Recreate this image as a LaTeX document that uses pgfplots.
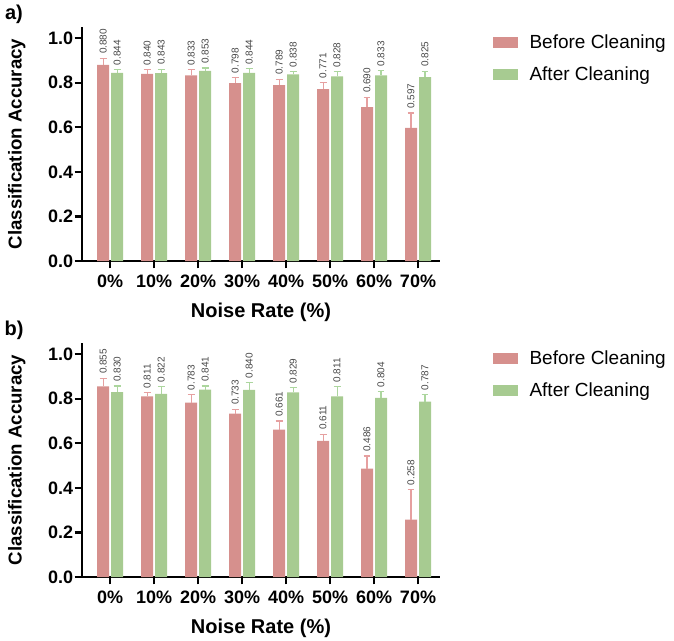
\documentclass[border=0pt]{standalone}
\usepackage{fontspec}
\setmainfont{Liberation Sans}
\usepackage{pgfplots}
\usepackage{pgfplotstable}
\pgfplotsset{compat=1.18}
\definecolor{barred}{RGB}{214,144,141}
\definecolor{bargreen}{RGB}{167,203,145}
\definecolor{errred}{RGB}{230,160,160}
\definecolor{errgreen}{RGB}{172,214,158}

\pgfplotstableread{
x before berr after aerr
0 0.880 0.030 0.844 0.015
1 0.840 0.018 0.843 0.018
2 0.833 0.025 0.853 0.013
3 0.798 0.025 0.844 0.018
4 0.789 0.027 0.838 0.013
5 0.771 0.031 0.828 0.021
6 0.690 0.045 0.833 0.021
7 0.597 0.067 0.825 0.027
}\dataA
\pgfplotstableread{
x before berr after aerr
0 0.855 0.037 0.830 0.027
1 0.811 0.016 0.822 0.033
2 0.783 0.037 0.841 0.016
3 0.733 0.020 0.840 0.033
4 0.661 0.039 0.829 0.020
5 0.611 0.030 0.811 0.043
6 0.486 0.057 0.804 0.028
7 0.258 0.135 0.787 0.033
}\dataB

\pgfplotsset{
  prism/.style={
    scale only axis,
    width=268.5pt, height=175.5pt,
    xmin=-0.64, xmax=7.5, ymin=0, ymax=1.05,
    ybar,
    axis lines=left,
    axis line style={-, line width=1.7pt, black},
    tick align=outside,
    major tick length=5.5pt,
    tick style={line width=1.7pt, black},
    xtick={0,1,2,3,4,5,6,7},
    xticklabels={0\%,10\%,20\%,30\%,40\%,50\%,60\%,70\%},
    ytick={0,0.2,0.4,0.6,0.8,1.0},
    yticklabel={\pgfmathprintnumber[fixed,fixed zerofill,precision=1,assume math mode=true]{\tick}},
    ticklabel style={font=\fontsize{13.5}{15}\selectfont\bfseries},
    yticklabel style={inner sep=1pt},
    xticklabel style={inner sep=2pt, yshift=-3pt},
    xlabel={Noise Rate (\%)},
    xlabel style={font=\fontsize{15}{17}\selectfont\bfseries, at={(axis description cs:0.5,-0.218)}, anchor=center},
    ylabel={Classification Accuracy},
    ylabel style={font=\fontsize{14}{16}\selectfont\bfseries, at={(axis description cs:-0.182,0.5)}, anchor=center, rotate=0},
    legend style={at={(axis description cs:1.146,0.98)}, anchor=north west, draw=none, fill=none,
      font=\fontsize{14.25}{16}\selectfont, row sep=8pt, column sep=7pt, inner sep=0pt},
    legend cell align=left,
    legend image code/.code={\fill[##1] (0pt,-4.1pt) rectangle (18.75pt,4.1pt);},
    clip=false,
  },
  vals/.style={
    nodes near coords={\pgfmathprintnumber[fixed,fixed zerofill,precision=3,assume math mode=true]{\pgfplotspointmeta}},
    visualization depends on={\thisrow{#1} \as \errv},
    every node near coord/.append style={font=\fontsize{7.5}{8}\selectfont, text=black!72,
      shift={(axis direction cs:0,\errv)}, yshift=3pt, rotate=90, anchor=west, inner sep=0pt},
  },
}

\begin{document}
\begin{tikzpicture}
\path[use as bounding box] (0,0) rectangle (505.5pt,-480pt);

\begin{axis}[prism, at={(61.5pt,-195.75pt)}, anchor=south west]
\addplot[fill=barred, draw=none, bar width=9pt, bar shift=-5.25pt, vals=berr,
  error bars/y dir=plus, error bars/y explicit,
  error bars/error bar style={errred, line width=0.8pt},
  error bars/error mark options={rotate=90, errred, mark size=2.6pt, line width=0.8pt}]
  table[x=x, y=before, y error=berr] {\dataA};
\addlegendentry{Before Cleaning}
\addplot[fill=bargreen, draw=none, bar width=9pt, bar shift=5.25pt, vals=aerr,
  error bars/y dir=plus, error bars/y explicit,
  error bars/error bar style={errgreen, line width=0.8pt},
  error bars/error mark options={rotate=90, errgreen, mark size=2.6pt, line width=0.8pt}]
  table[x=x, y=after, y error=aerr] {\dataA};
\addlegendentry{After Cleaning}
\node[font=\fontsize{15}{17}\selectfont\bfseries, anchor=center] at (axis description cs:-0.19,1.053) {a)};
\end{axis}

\begin{axis}[prism, at={(61.5pt,-432.75pt)}, anchor=south west]
\addplot[fill=barred, draw=none, bar width=9pt, bar shift=-5.25pt, vals=berr,
  error bars/y dir=plus, error bars/y explicit,
  error bars/error bar style={errred, line width=0.8pt},
  error bars/error mark options={rotate=90, errred, mark size=2.6pt, line width=0.8pt}]
  table[x=x, y=before, y error=berr] {\dataB};
\addlegendentry{Before Cleaning}
\addplot[fill=bargreen, draw=none, bar width=9pt, bar shift=5.25pt, vals=aerr,
  error bars/y dir=plus, error bars/y explicit,
  error bars/error bar style={errgreen, line width=0.8pt},
  error bars/error mark options={rotate=90, errgreen, mark size=2.6pt, line width=0.8pt}]
  table[x=x, y=after, y error=aerr] {\dataB};
\addlegendentry{After Cleaning}
\node[font=\fontsize{15}{17}\selectfont\bfseries, anchor=center] at (axis description cs:-0.19,1.053) {b)};
\end{axis}
\end{tikzpicture}
\end{document}
